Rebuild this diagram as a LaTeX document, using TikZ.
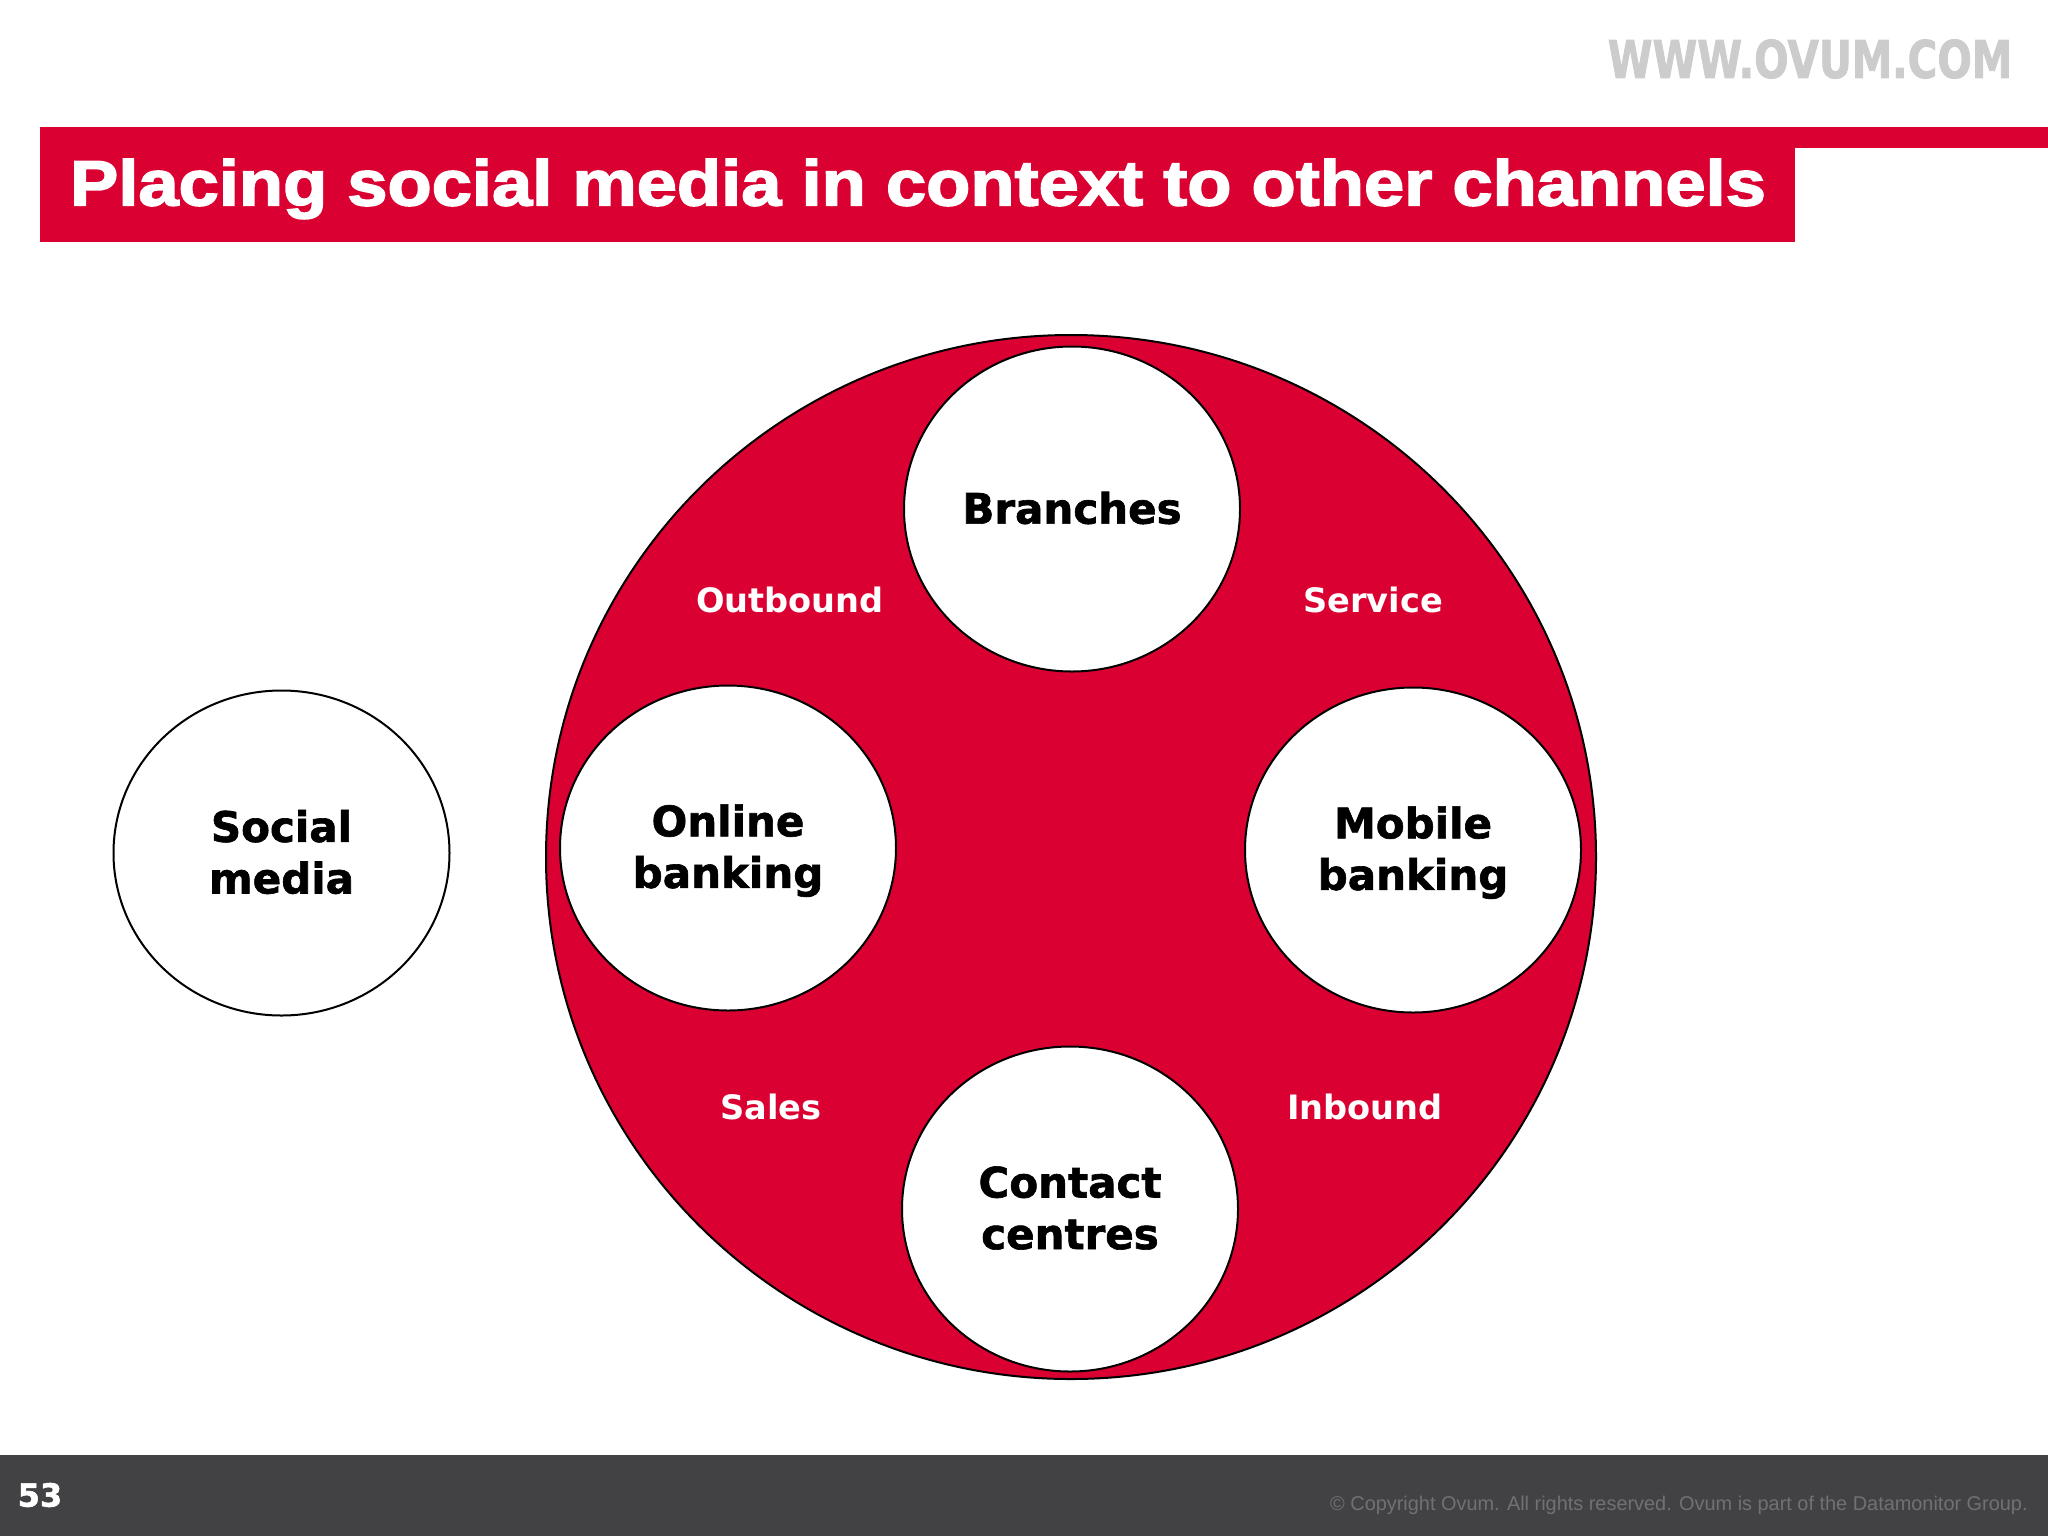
\documentclass[tikz,border=0pt]{standalone}
\usepackage{fontspec}
\usetikzlibrary{shapes.geometric}
\setmainfont{DejaVu Sans}[BoldFont={DejaVu Sans Bold}]
\newfontfamily\heavyfont{DejaVu Sans Bold}[FakeBold=1.5]
\newfontfamily\webfont{DejaVu Sans Bold}[FakeBold=1.5,FakeStretch=0.78]
\newfontfamily\arialfont{Liberation Sans}
\newfontfamily\titlefont{Liberation Sans Bold}[FakeBold=2.5,FakeStretch=1.13]
\definecolor{ovred}{HTML}{DB0032}
\definecolor{ovdark}{HTML}{424143}
\newcommand\lowertext{\rule{0pt}{18.6pt}}
\newcommand\raisetext{\rule[-1.3pt]{0pt}{0pt}}
\tikzset{
  x=0.5pt,y=-0.5pt,
  channel/.style={ellipse,draw=black,line width=1pt,fill=white,minimum width=168pt,minimum height=162.5pt,inner sep=0pt,align=center,font=\heavyfont\fontsize{21}{25.8}\selectfont,text=black},
  hublabel/.style={text=white,inner sep=0pt,font=\bfseries\fontsize{16.8}{20}\selectfont},
}
\begin{document}
\begin{tikzpicture}
\useasboundingbox (0,0) rectangle (2048,1536);
\fill[white] (0,0) rectangle (2048,1536);
% header
\fill[ovred] (40,127) rectangle (1795,242);
\fill[ovred] (1795,127) rectangle (2048,148);
\node[text=white,inner sep=0pt,anchor=center] (title) at (918,189) {\titlefont\fontsize{32}{38}\selectfont Placing social media in context to other channels};
\node[text=black!20,inner sep=0pt] (web) at (1810,59) {\webfont\fontsize{26}{30}\selectfont WWW.OVUM.COM};
% footer
\fill[ovdark] (0,1455) rectangle (2048,1536);
\node[text=white,inner sep=0pt] (page) at (40,1495) {\heavyfont\fontsize{16}{20}\selectfont 53};
\node[text=white!25!ovdark,inner sep=0pt,anchor=east] (copy) at (2028,1505) {\arialfont\fontsize{9.95}{12}\selectfont © Copyright Ovum. All rights reserved. Ovum is part of the Datamonitor Group.};
% hub
\node[ellipse,draw=black,line width=1pt,fill=ovred,minimum width=525pt,minimum height=522pt,inner sep=0pt] (hub) at (1071,857) {};
\node[channel] (branches) at (1072,509) {Branches\raisetext};
\node[channel] (online) at (728,848) {\lowertext Online\\banking};
\node[channel] (mobile) at (1413,850) {\lowertext Mobile\\banking};
\node[channel] (contact) at (1070,1209) {Contact\\centres\raisetext};
\node[channel] (social) at (281.5,853) {Social\\media\raisetext};
\node[hublabel] (outbound) at (790,600) {Outbound};
\node[hublabel] (service) at (1373,600) {Service};
\node[hublabel] (sales) at (771,1107) {Sales};
\node[hublabel] (inbound) at (1365,1107) {Inbound};
\end{tikzpicture}
\end{document}
